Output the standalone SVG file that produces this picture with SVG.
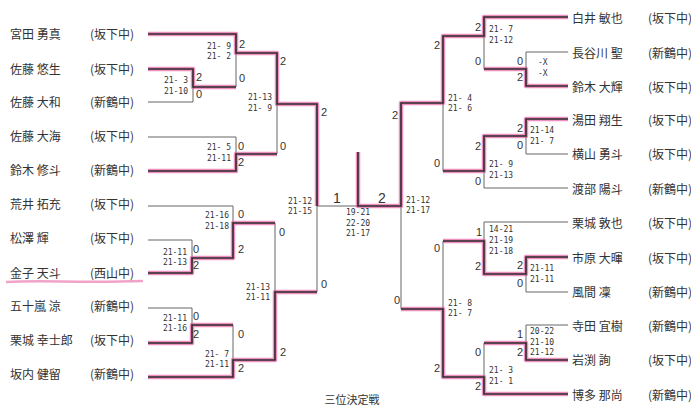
<svg xmlns="http://www.w3.org/2000/svg" width="691" height="407" viewBox="0 0 691 407">
<style>
text{font-family:"Noto Sans CJK JP","Noto Sans",sans-serif;fill:#333;dominant-baseline:central}
.nm{font-size:12px}
.sc{font-family:"DejaVu Sans Mono","Liberation Mono",monospace;font-size:8px;white-space:pre}
.rl{font-family:"Liberation Sans",sans-serif;font-size:11px;text-anchor:middle}
.fn{font-family:"Liberation Sans",sans-serif;font-size:14px;text-anchor:middle}
.e{text-anchor:end}
.m{text-anchor:middle}
.g{stroke:#666;stroke-width:1;fill:none}
.hl{stroke:#e4559c;stroke-width:4.5;stroke-opacity:0.65;fill:none;stroke-linejoin:round}
.w{stroke:#2a2a2a;stroke-width:1.6;fill:none}
</style>
<rect width="691" height="407" fill="#fff"/>
<g id="connectors">
<g id="losers">
<path class="g" d="M148 102H193V87"/>
<path class="g" d="M236 87V53"/>
<path class="g" d="M148 137H236V154"/>
<path class="g" d="M277 154V104"/>
<path class="g" d="M148 206H233V223"/>
<path class="g" d="M148 240H192V258"/>
<path class="g" d="M148 308H192V325"/>
<path class="g" d="M233 325V360"/>
<path class="g" d="M275 223V292"/>
<path class="g" d="M317 292V206H358"/>
<path class="g" d="M484 35V69"/>
<path class="g" d="M568 52H526V69"/>
<path class="g" d="M568 154H526V136"/>
<path class="g" d="M568 188H484V171"/>
<path class="g" d="M443 103V171"/>
<path class="g" d="M568 222H484V241"/>
<path class="g" d="M568 292H526V274"/>
<path class="g" d="M443 241V309"/>
<path class="g" d="M568 325H526V343"/>
<path class="g" d="M484 343V377"/>
<path class="g" d="M401 309V206"/>
</g>
<g id="winners-highlight">
<path class="hl" d="M148 34H236V53H277V104H317V206"/>
<path class="hl" d="M148 69H193V87H236"/>
<path class="hl" d="M148 171H236V154H277"/>
<path class="hl" d="M148 273H192V258H233V223H275"/>
<path class="hl" d="M148 343H192V325H233"/>
<path class="hl" d="M148 377H233V360H275V292H317"/>
<path class="hl" d="M358 152V206H401V103H443V36H484V17H568"/>
<path class="hl" d="M568 86H526V69H484"/>
<path class="hl" d="M568 119H526V136H484V171H443"/>
<path class="hl" d="M568 257H526V274H484V241H443"/>
<path class="hl" d="M568 360H526V343H484"/>
<path class="hl" d="M568 394H484V377H443V309H401"/>
<path d="M6 282C40 280 80 283 143 281" stroke="#e4559c" stroke-width="2.5" stroke-opacity="0.55" fill="none"/>
</g>
<g id="winners">
<path class="w" d="M148 34H236V53H277V104H317V206"/>
<path class="w" d="M148 69H193V87H236"/>
<path class="w" d="M148 171H236V154H277"/>
<path class="w" d="M148 273H192V258H233V223H275"/>
<path class="w" d="M148 343H192V325H233"/>
<path class="w" d="M148 377H233V360H275V292H317"/>
<path class="w" d="M358 152V206H401V103H443V36H484V17H568"/>
<path class="w" d="M568 86H526V69H484"/>
<path class="w" d="M568 119H526V136H484V171H443"/>
<path class="w" d="M568 257H526V274H484V241H443"/>
<path class="w" d="M568 360H526V343H484"/>
<path class="w" d="M568 394H484V377H443V309H401"/>
</g>
</g>
<g id="left-players">
<g id="p-miyata"><text class="nm" x="10" y="33">宮田 勇真</text><text class="nm" x="90" y="33">(坂下中)</text></g>
<g id="p-sato-yusei"><text class="nm" x="10" y="68">佐藤 悠生</text><text class="nm" x="90" y="68">(坂下中)</text></g>
<g id="p-sato-yamato"><text class="nm" x="10" y="101">佐藤 大和</text><text class="nm" x="90" y="101">(新鶴中)</text></g>
<g id="p-sato-hiromi"><text class="nm" x="10" y="135">佐藤 大海</text><text class="nm" x="90" y="135">(坂下中)</text></g>
<g id="p-suzuki-shuto"><text class="nm" x="10" y="169">鈴木 修斗</text><text class="nm" x="90" y="169">(新鶴中)</text></g>
<g id="p-arai"><text class="nm" x="10" y="203">荒井 拓充</text><text class="nm" x="90" y="203">(坂下中)</text></g>
<g id="p-matsuzawa"><text class="nm" x="10" y="237">松澤 輝</text><text class="nm" x="90" y="237">(坂下中)</text></g>
<g id="p-kaneko"><text class="nm" x="10" y="272">金子 天斗</text><text class="nm" x="90" y="272">(西山中)</text></g>
<g id="p-igarashi"><text class="nm" x="10" y="305">五十嵐 涼</text><text class="nm" x="90" y="305">(新鶴中)</text></g>
<g id="p-kuriki-koshiro"><text class="nm" x="10" y="339">栗城 幸士郎</text><text class="nm" x="90" y="339">(坂下中)</text></g>
<g id="p-bannai"><text class="nm" x="10" y="373">坂内 健留</text><text class="nm" x="90" y="373">(新鶴中)</text></g>
</g>
<g id="right-players">
<g id="p-shirai"><text class="nm" x="572" y="17">白井 敏也</text><text class="nm" x="648" y="17">(坂下中)</text></g>
<g id="p-hasegawa"><text class="nm" x="572" y="52">長谷川 聖</text><text class="nm" x="648" y="52">(新鶴中)</text></g>
<g id="p-suzuki-daiki"><text class="nm" x="572" y="86">鈴木 大輝</text><text class="nm" x="648" y="86">(坂下中)</text></g>
<g id="p-yuda"><text class="nm" x="572" y="119">湯田 翔生</text><text class="nm" x="648" y="119">(坂下中)</text></g>
<g id="p-yokoyama"><text class="nm" x="572" y="153">横山 勇斗</text><text class="nm" x="648" y="153">(坂下中)</text></g>
<g id="p-watanabe"><text class="nm" x="572" y="188">渡部 陽斗</text><text class="nm" x="648" y="188">(新鶴中)</text></g>
<g id="p-kuriki-atsuya"><text class="nm" x="572" y="222">栗城 敦也</text><text class="nm" x="648" y="222">(坂下中)</text></g>
<g id="p-ichihara"><text class="nm" x="572" y="257">市原 大暉</text><text class="nm" x="648" y="257">(坂下中)</text></g>
<g id="p-kazama"><text class="nm" x="572" y="291">風間 凜</text><text class="nm" x="648" y="291">(新鶴中)</text></g>
<g id="p-terada"><text class="nm" x="572" y="325">寺田 宜樹</text><text class="nm" x="648" y="325">(新鶴中)</text></g>
<g id="p-iwabuchi"><text class="nm" x="572" y="359">岩渕 詢</text><text class="nm" x="648" y="359">(坂下中)</text></g>
<g id="p-hakata"><text class="nm" x="572" y="394">博多 那尚</text><text class="nm" x="648" y="394">(新鶴中)</text></g>
</g>
<g id="scores">
<text class="sc e" x="188" y="80">21- 3</text><text class="sc e" x="188" y="91">21-10</text>
<text class="sc e" x="231" y="46">21- 9</text><text class="sc e" x="231" y="56">21- 2</text>
<text class="sc e" x="231" y="147">21- 5</text><text class="sc e" x="231" y="158">21-11</text>
<text class="sc e" x="272" y="97">21-13</text><text class="sc e" x="272" y="108">21- 9</text>
<text class="sc e" x="312" y="201">21-12</text><text class="sc e" x="312" y="211">21-15</text>
<text class="sc e" x="229" y="215">21-16</text><text class="sc e" x="229" y="226">21-18</text>
<text class="sc e" x="187" y="252">21-11</text><text class="sc e" x="187" y="262">21-13</text>
<text class="sc e" x="187" y="318">21-11</text><text class="sc e" x="187" y="328">21-16</text>
<text class="sc e" x="229" y="354">21- 7</text><text class="sc e" x="229" y="364">21-11</text>
<text class="sc e" x="270" y="287">21-13</text><text class="sc e" x="270" y="297">21-11</text>
<text class="sc m" x="358" y="212">19-21</text><text class="sc m" x="358" y="223">22-20</text><text class="sc m" x="358" y="233">21-17</text>
<text class="sc" x="406" y="200">21-12</text><text class="sc" x="406" y="210">21-17</text>
<text class="sc" x="448" y="98">21- 4</text><text class="sc" x="448" y="108">21- 6</text>
<text class="sc" x="489" y="29">21- 7</text><text class="sc" x="489" y="40">21-12</text>
<text class="sc" x="538" y="62">-X</text><text class="sc" x="538" y="73">-X</text>
<text class="sc" x="530" y="130">21-14</text><text class="sc" x="530" y="141">21- 7</text>
<text class="sc" x="489" y="164">21- 9</text><text class="sc" x="489" y="175">21-13</text>
<text class="sc" x="489" y="229">14-21</text><text class="sc" x="489" y="240">21-19</text><text class="sc" x="489" y="251">21-18</text>
<text class="sc" x="530" y="268">21-11</text><text class="sc" x="530" y="279">21-11</text>
<text class="sc" x="448" y="303">21- 8</text><text class="sc" x="448" y="313">21- 7</text>
<text class="sc" x="530" y="331">20-22</text><text class="sc" x="530" y="342">21-10</text><text class="sc" x="530" y="352">21-12</text>
<text class="sc" x="489" y="370">21- 3</text><text class="sc" x="489" y="381">21- 1</text>
</g>
<g id="round-results">
<text class="rl" x="199" y="77">2</text><text class="rl" x="199" y="94">0</text>
<text class="rl" x="242" y="44">2</text><text class="rl" x="242" y="78">0</text>
<text class="rl" x="241" y="146">0</text><text class="rl" x="241" y="162">2</text>
<text class="rl" x="283" y="61">2</text><text class="rl" x="283" y="146">0</text>
<text class="rl" x="324" y="112">2</text><text class="rl" x="324" y="284">0</text>
<text class="rl" x="241" y="214">0</text><text class="rl" x="241" y="249">2</text>
<text class="rl" x="196" y="249">0</text><text class="rl" x="196" y="265">2</text>
<text class="rl" x="282" y="232">0</text><text class="rl" x="283" y="352">2</text>
<text class="rl" x="196" y="316">0</text><text class="rl" x="196" y="334">2</text>
<text class="rl" x="241" y="334">0</text><text class="rl" x="241" y="368">2</text>
<text class="fn" x="337" y="198">1</text><text class="fn" x="382" y="198">2</text>
<text class="rl" x="478" y="27">2</text><text class="rl" x="478" y="61">0</text>
<text class="rl" x="437" y="45">2</text><text class="rl" x="437" y="163">0</text>
<text class="rl" x="520" y="61">0</text><text class="rl" x="520" y="77">2</text>
<text class="rl" x="520" y="128">2</text><text class="rl" x="520" y="145">0</text>
<text class="rl" x="478" y="146">2</text><text class="rl" x="478" y="181">0</text>
<text class="rl" x="395" y="115">2</text><text class="rl" x="397" y="300">0</text>
<text class="rl" x="479" y="232">1</text><text class="rl" x="478" y="266">2</text>
<text class="rl" x="437" y="248">0</text><text class="rl" x="437" y="368">2</text>
<text class="rl" x="520" y="265">2</text><text class="rl" x="520" y="283">0</text>
<text class="rl" x="520" y="334">1</text><text class="rl" x="520" y="352">2</text>
<text class="rl" x="478" y="352">0</text><text class="rl" x="478" y="386">2</text>
</g>
<text class="nm m" x="352" y="399" style="font-size:11px">三位決定戦</text>
</svg>
